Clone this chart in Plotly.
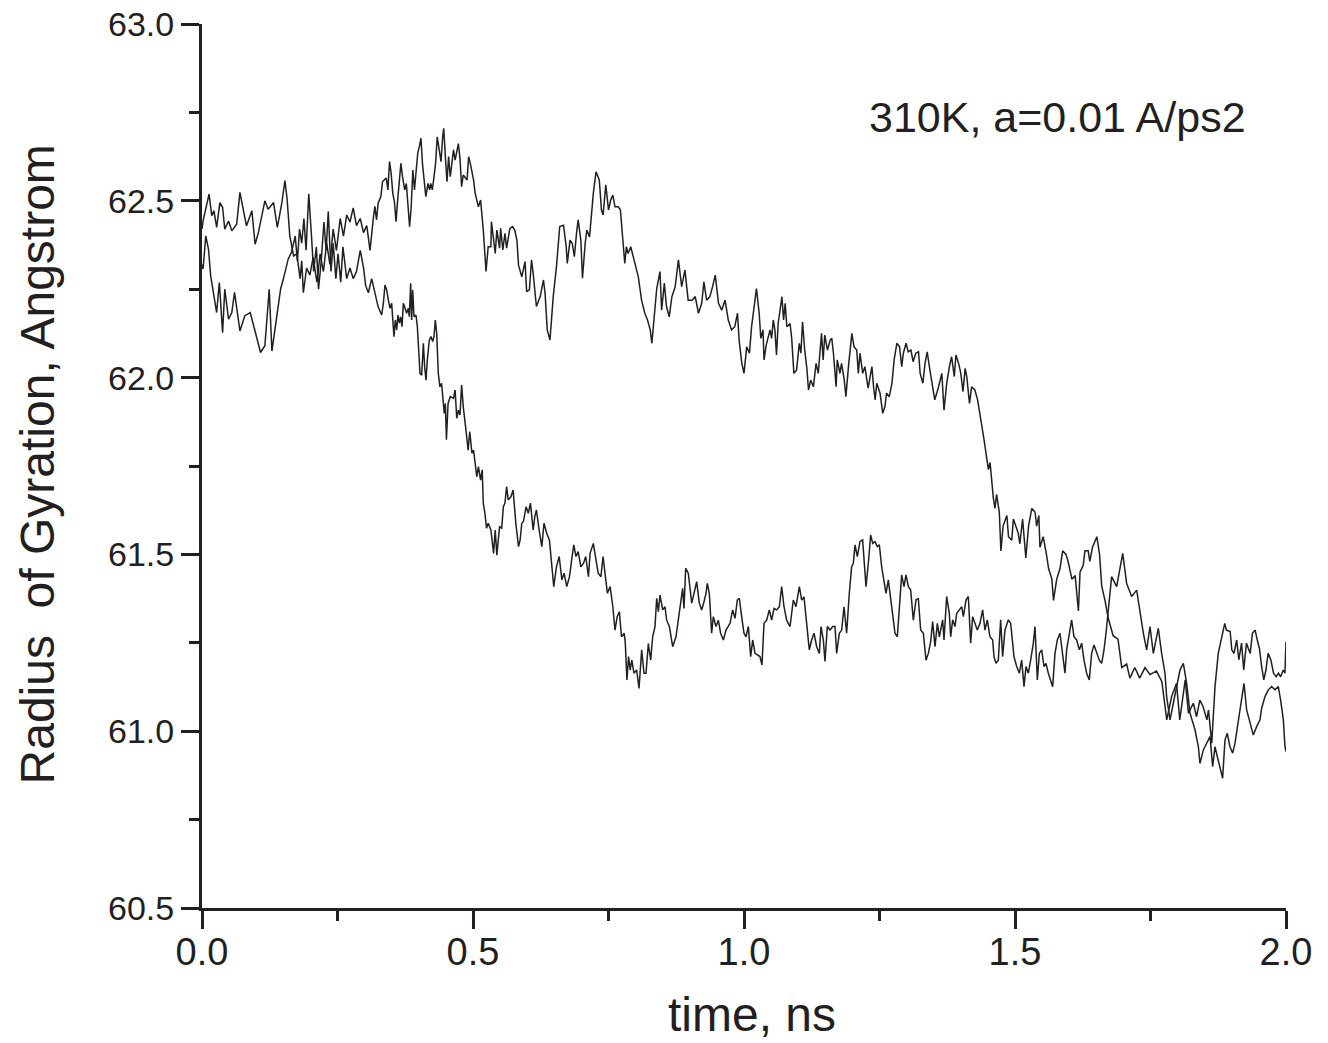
import plotly.graph_objects as go

# ---------------- data ----------------
time_a = [0.000, 0.002, 0.013, 0.018, 0.022, 0.027, 0.033, 0.038, 0.042, 0.049, 0.055, 0.064, 0.070, 0.076, 0.082,
          0.092, 0.098, 0.104, 0.110, 0.116, 0.122, 0.132, 0.139, 0.147, 0.153, 0.157, 0.162, 0.169,
          0.175, 0.178, 0.181, 0.184, 0.187, 0.193, 0.199, 0.205, 0.212, 0.218, 0.224, 0.230, 0.236, 0.242, 0.248,
          0.255, 0.261, 0.267, 0.273, 0.279, 0.285, 0.292, 0.298, 0.304, 0.310, 0.316,
          0.319, 0.322, 0.325, 0.330, 0.333, 0.336, 0.340, 0.343, 0.346, 0.349, 0.352, 0.355, 0.358, 0.361, 0.364,
          0.367, 0.370, 0.374, 0.377, 0.380, 0.383, 0.386, 0.389, 0.392, 0.395, 0.398, 0.401, 0.404, 0.407, 0.410,
          0.413, 0.417, 0.420, 0.422, 0.425, 0.428, 0.431, 0.434, 0.437, 0.441, 0.444, 0.446, 0.449, 0.452, 0.455,
          0.458, 0.461, 0.464, 0.467, 0.470, 0.473, 0.476, 0.479, 0.482, 0.489, 0.492, 0.495, 0.501, 0.504, 0.510,
          0.514, 0.519, 0.524, 0.528, 0.533, 0.534, 0.538, 0.541, 0.544, 0.549, 0.551, 0.555, 0.559, 0.562, 0.568,
          0.573, 0.577, 0.581, 0.584, 0.590, 0.596, 0.599, 0.604, 0.608, 0.611, 0.617, 0.624, 0.630, 0.633, 0.637,
          0.642, 0.648, 0.654, 0.660, 0.667, 0.672, 0.674, 0.679, 0.683, 0.687, 0.691, 0.694, 0.699, 0.702, 0.707,
          0.710, 0.715, 0.719, 0.722, 0.727, 0.733, 0.737, 0.740, 0.745, 0.750, 0.754, 0.758, 0.762, 0.768, 0.772,
          0.776, 0.780, 0.783, 0.786, 0.791, 0.796, 0.801, 0.805, 0.811, 0.817, 0.822, 0.827, 0.830, 0.834, 0.839,
          0.845, 0.848, 0.853, 0.857, 0.862, 0.867, 0.873, 0.879, 0.885, 0.891, 0.897, 0.904, 0.910, 0.916, 0.922,
          0.926, 0.931, 0.937, 0.942, 0.947, 0.953, 0.959, 0.965, 0.971, 0.977, 0.983, 0.988, 0.991, 0.996, 1.000,
          1.005, 1.010, 1.014, 1.020, 1.023, 1.028,
          1.031, 1.035, 1.037, 1.041, 1.045, 1.048, 1.051, 1.054, 1.057, 1.060, 1.063, 1.070, 1.073, 1.076, 1.079,
          1.085, 1.088, 1.092, 1.097, 1.102, 1.105, 1.108, 1.112, 1.116, 1.119, 1.123, 1.128, 1.133, 1.137, 1.140,
          1.143, 1.146, 1.149, 1.154, 1.159, 1.162, 1.165, 1.170, 1.172, 1.177, 1.180, 1.185, 1.188, 1.193, 1.199,
          1.203, 1.208, 1.211, 1.214, 1.219, 1.223, 1.229, 1.236, 1.239, 1.242, 1.245, 1.251, 1.256, 1.260, 1.263,
          1.268, 1.273, 1.277, 1.282, 1.287, 1.291, 1.294, 1.299, 1.303, 1.308, 1.312, 1.317, 1.322, 1.325, 1.330,
          1.334, 1.338, 1.343, 1.348, 1.352, 1.359, 1.365, 1.369, 1.374, 1.379, 1.383, 1.388, 1.391, 1.396, 1.400,
          1.404, 1.408, 1.411, 1.416, 1.420, 1.426, 1.431, 1.434, 1.438, 1.443,
          1.448, 1.451, 1.454, 1.457, 1.460, 1.463, 1.466, 1.471, 1.474, 1.478, 1.485, 1.488, 1.494, 1.497, 1.506,
          1.509, 1.514, 1.520, 1.525, 1.531, 1.537, 1.540, 1.544, 1.546, 1.552, 1.558, 1.562, 1.568, 1.571, 1.577,
          1.583, 1.588, 1.594, 1.598, 1.605, 1.611, 1.617, 1.620, 1.626, 1.629, 1.635, 1.638, 1.643, 1.651, 1.656,
          1.660, 1.666, 1.672, 1.681, 1.690, 1.697, 1.706, 1.712, 1.721, 1.730, 1.740, 1.749, 1.761, 1.771,
          1.780, 1.789, 1.798, 1.804, 1.814, 1.820, 1.829, 1.835, 1.841, 1.847, 1.854, 1.857, 1.863, 1.866, 1.869,
          1.875, 1.881, 1.887, 1.890, 1.897, 1.900, 1.904, 1.909, 1.913, 1.918, 1.922, 1.927, 1.934, 1.938, 1.943,
          1.947, 1.951, 1.955, 1.959, 1.963, 1.967, 1.972, 1.977, 1.982, 1.986, 1.990, 1.995, 1.998, 2.000]
rg_a = [62.42, 62.443, 62.519, 62.458, 62.472, 62.425, 62.495, 62.481, 62.420, 62.443, 62.415, 62.434, 62.524, 62.476, 62.429,
        62.472, 62.377, 62.410, 62.458, 62.500, 62.476, 62.495, 62.425, 62.491, 62.557, 62.505, 62.401, 62.344,
        62.35, 62.31, 62.28, 62.33, 62.24, 62.31, 62.29, 62.34, 62.27, 62.35, 62.30, 62.38, 62.32, 62.42, 62.36,
        62.45, 62.40, 62.46, 62.44, 62.48, 62.43, 62.45, 62.41, 62.43, 62.36, 62.45,
        62.484, 62.446, 62.493, 62.512, 62.554, 62.559, 62.564, 62.531, 62.611, 62.578, 62.521, 62.498, 62.441, 62.502, 62.549,
        62.606, 62.568, 62.531, 62.549, 62.483, 62.427, 62.483, 62.587, 62.531, 62.582, 62.634, 62.653, 62.677, 62.601, 62.559,
        62.512, 62.549, 62.531, 62.549, 62.531, 62.568, 62.606, 62.681, 62.653, 62.611, 62.681, 62.705, 62.625, 62.554, 62.625,
        62.568, 62.606, 62.644, 62.615, 62.634, 62.662, 62.620, 62.540, 62.573, 62.559, 62.625, 62.606, 62.559, 62.521, 62.483,
        62.502, 62.417, 62.300, 62.370, 62.370, 62.441, 62.398, 62.351, 62.417, 62.366, 62.422, 62.361, 62.408, 62.366, 62.422,
        62.427, 62.417, 62.389, 62.318, 62.285, 62.328, 62.243, 62.248, 62.333, 62.295, 62.201, 62.229, 62.276, 62.238, 62.135,
        62.106, 62.229, 62.314, 62.427, 62.431, 62.370, 62.323, 62.389, 62.380, 62.342, 62.408, 62.446, 62.389, 62.281, 62.380,
        62.417, 62.398, 62.483, 62.521, 62.582, 62.559, 62.474, 62.460, 62.545, 62.474, 62.502, 62.516, 62.483, 62.483, 62.474,
        62.389, 62.323, 62.370, 62.351, 62.370, 62.342, 62.314, 62.285, 62.219, 62.182, 62.163, 62.135, 62.097, 62.163, 62.252,
        62.300, 62.191, 62.267, 62.201, 62.172, 62.229, 62.257, 62.333, 62.257, 62.304, 62.219, 62.219, 62.229, 62.182, 62.210,
        62.271, 62.219, 62.229, 62.257, 62.290, 62.210, 62.191, 62.219, 62.163, 62.135, 62.144, 62.182, 62.106, 62.040, 62.012,
        62.087, 62.069, 62.144, 62.219, 62.252, 62.182,
        62.111, 62.135, 62.050, 62.092, 62.116, 62.135, 62.111, 62.163, 62.135, 62.064, 62.153, 62.229, 62.163, 62.210, 62.144,
        62.153, 62.111, 62.012, 62.021, 62.097, 62.069, 62.158, 62.078, 62.026, 61.965, 61.993, 61.974, 62.040, 62.012, 62.083,
        62.125, 62.050, 62.120, 62.078, 62.106, 62.111, 62.069, 61.974, 62.050, 62.012, 62.040, 61.993, 61.946, 62.036, 62.125,
        62.087, 62.078, 62.012, 62.069, 62.012, 62.031, 61.970, 62.031, 61.974, 61.937, 61.984, 61.956, 61.899, 61.918, 61.956,
        61.946, 61.984, 62.050, 62.097, 62.087, 62.031, 62.069, 62.097, 62.073, 62.078, 62.045, 62.069, 62.073, 62.012, 61.984,
        62.040, 62.073, 62.021, 61.974, 61.937, 61.974, 62.012, 61.908, 61.984, 62.031, 62.059, 62.003, 62.064, 62.040, 62.012,
        61.960, 62.026, 62.003, 61.927, 61.974, 61.965, 61.937, 61.908, 61.880, 61.823,
        61.77, 61.74, 61.76, 61.70, 61.66, 61.63, 61.67, 61.62, 61.51, 61.58, 61.61, 61.55, 61.54, 61.60, 61.56,
        61.53, 61.60, 61.49, 61.58, 61.63, 61.62, 61.58, 61.61, 61.52, 61.55, 61.50, 61.46, 61.43, 61.37, 61.43,
        61.46, 61.51, 61.50, 61.48, 61.43, 61.44, 61.34, 61.45, 61.47, 61.51, 61.51, 61.48, 61.52, 61.55, 61.50,
        61.41, 61.37, 61.32, 61.27, 61.26, 61.18, 61.19, 61.15, 61.18, 61.15, 61.18, 61.16, 61.17, 61.14,
        61.032, 61.098, 61.135, 61.032, 61.145, 61.051, 61.079, 61.041, 61.088, 61.070, 61.032, 61.060, 60.966, 61.032, 61.126,
        61.220, 61.258, 61.305, 61.286, 61.282, 61.230, 61.220, 61.258, 61.202, 61.249, 61.173, 61.249, 61.220, 61.277, 61.286,
        61.258, 61.234, 61.183, 61.145, 61.173, 61.220, 61.202, 61.164, 61.154, 61.164, 61.154, 61.173, 61.164, 61.253]

time_b = [0.000, 0.002, 0.007, 0.012, 0.016, 0.021, 0.027, 0.032, 0.038, 0.042, 0.049, 0.055, 0.060, 0.070, 0.079,
          0.089, 0.098, 0.108, 0.116, 0.124, 0.129, 0.139, 0.145, 0.153, 0.159, 0.165,
          0.172, 0.176, 0.180, 0.184, 0.188, 0.192, 0.197, 0.202, 0.206, 0.211, 0.215, 0.220, 0.225, 0.229, 0.233,
          0.238, 0.242, 0.247, 0.251, 0.256, 0.260, 0.267, 0.273, 0.279, 0.285, 0.292, 0.298, 0.302, 0.307, 0.313,
          0.319, 0.325,
          0.3315, 0.3346, 0.3376, 0.3407, 0.3438, 0.3469, 0.3499, 0.3518, 0.3542, 0.3567, 0.3592, 0.3616, 0.3641,
          0.3665, 0.3690, 0.3715, 0.3745, 0.3776, 0.3807, 0.3825, 0.3850, 0.3868, 0.3887, 0.3911, 0.3948, 0.3973,
          0.3998, 0.4022, 0.4053, 0.4084, 0.4108, 0.4133, 0.4157, 0.4194, 0.4225, 0.4256, 0.4280, 0.4305, 0.4330,
          0.436, 0.439, 0.442, 0.447, 0.449, 0.451, 0.454, 0.458, 0.464, 0.467, 0.470, 0.473, 0.476, 0.479, 0.482,
          0.487, 0.491, 0.494, 0.498, 0.501, 0.504, 0.507, 0.510, 0.514, 0.517, 0.519, 0.522, 0.525, 0.528, 0.533,
          0.538, 0.541, 0.544, 0.549, 0.553, 0.556, 0.559, 0.562, 0.565, 0.570, 0.574, 0.579, 0.584, 0.587, 0.590,
          0.593, 0.598, 0.602, 0.606, 0.611, 0.614, 0.617, 0.622, 0.627, 0.631, 0.636, 0.641, 0.645, 0.649, 0.654,
          0.659, 0.664, 0.668, 0.673, 0.678, 0.682, 0.686, 0.690, 0.694, 0.699, 0.704, 0.708, 0.713, 0.716, 0.722,
          0.727, 0.731, 0.736, 0.740, 0.745, 0.748, 0.753, 0.758, 0.762, 0.766, 0.770, 0.774, 0.779, 0.781, 0.784,
          0.787, 0.790, 0.793, 0.797, 0.802,
          0.8063, 0.8112, 0.8155, 0.8192, 0.8235, 0.8278, 0.8315, 0.8358, 0.8389, 0.8420, 0.8450, 0.8500, 0.8542,
          0.8573, 0.8623, 0.8684, 0.8745, 0.8788, 0.8831, 0.8868, 0.8893, 0.8924, 0.8973, 0.9004, 0.9035, 0.9078,
          0.9127, 0.9176, 0.9219, 0.9262, 0.9299, 0.9323, 0.9360, 0.9403, 0.9434, 0.9483, 0.9526, 0.9569, 0.9618,
          0.9668, 0.9711, 0.9742, 0.9791, 0.9834, 0.9877, 0.9914, 0.9957, 1.0000, 1.0037, 1.0080, 1.0123, 1.0160,
          1.0203, 1.0246, 1.0295, 1.0332, 1.0369, 1.0418, 1.0467, 1.0510, 1.0554, 1.0603, 1.0652, 1.0695, 1.0738,
          1.0787, 1.0849, 1.0910, 1.0959, 1.1021, 1.1064, 1.1107, 1.1156, 1.1205, 1.1248, 1.1292, 1.1341, 1.1390,
          1.1421, 1.1464, 1.1494, 1.1537, 1.1587, 1.1636, 1.1679, 1.1710, 1.1759, 1.1802, 1.1845, 1.1894, 1.1943,
          1.1986, 1.2017, 1.2048, 1.2091, 1.2140, 1.2189, 1.2214, 1.2251, 1.2294, 1.2337, 1.2374, 1.2417, 1.2460,
          1.2497, 1.2540, 1.2583, 1.2620, 1.2663, 1.2706, 1.2743, 1.2786, 1.2829, 1.2866, 1.2909, 1.2952, 1.2989,
          1.3032, 1.3075, 1.3124, 1.3173, 1.3216, 1.3260, 1.3309, 1.3358, 1.3401, 1.3444, 1.3481, 1.3524, 1.3567,
          1.3604,
          1.3665, 1.3690, 1.3739, 1.3788, 1.3813, 1.3850, 1.3893, 1.3924, 1.3973, 1.4016, 1.4047, 1.4096, 1.4139,
          1.4182, 1.4219, 1.4262, 1.4305, 1.4354, 1.4403, 1.4446, 1.4489, 1.4538, 1.4588, 1.4612, 1.4649, 1.4692,
          1.4735, 1.4772, 1.4815, 1.4877, 1.4920, 1.4957, 1.4981, 1.5031, 1.5080, 1.5123, 1.5166, 1.5203, 1.5246,
          1.5289, 1.5338, 1.5369, 1.5412, 1.5449, 1.5492, 1.5535, 1.5572, 1.5615, 1.5658, 1.5695, 1.5738, 1.5781,
          1.5830, 1.5879, 1.5922, 1.5953, 1.6002, 1.6045, 1.6088, 1.6138, 1.6187, 1.6230, 1.6273, 1.6322, 1.6371,
          1.6414, 1.6457, 1.6506, 1.6556, 1.6599, 1.6642, 1.6679, 1.6722, 1.6783, 1.6876, 1.6987, 1.7060, 1.7152,
          1.7245, 1.7306, 1.7368, 1.7429, 1.7491, 1.7552, 1.7644, 1.7706, 1.7767, 1.7798, 1.7860, 1.7921, 1.7983,
          1.8044, 1.8106, 1.8167, 1.8229, 1.8321, 1.8383, 1.8413, 1.8475, 1.8536, 1.8598, 1.8647, 1.8690, 1.8733,
          1.8782, 1.8831, 1.8874, 1.8917, 1.8966, 1.9016, 1.9059, 1.9120, 1.9182, 1.9225, 1.9274, 1.9336, 1.9397,
          1.9459, 1.9520, 1.9551, 1.9612, 1.9674, 1.9735, 1.9797, 1.9858, 1.9901, 1.9951, 1.9981, 2.0000]
rg_b = [62.32, 62.307, 62.401, 62.363, 62.288, 62.241, 62.184, 62.269, 62.127, 62.250, 62.165, 62.184, 62.241, 62.132, 62.175,
        62.184, 62.127, 62.071, 62.090, 62.250, 62.075, 62.193, 62.250, 62.297, 62.335, 62.354,
        62.40, 62.33, 62.42, 62.38, 62.45, 62.36, 62.52, 62.40, 62.30, 62.37, 62.25, 62.33, 62.44, 62.36, 62.47,
        62.30, 62.38, 62.28, 62.35, 62.27, 62.37, 62.28, 62.31, 62.28, 62.30, 62.36, 62.31, 62.26, 62.24, 62.28,
        62.24, 62.20,
        62.177, 62.210, 62.262, 62.248, 62.220, 62.196, 62.210, 62.163, 62.116, 62.163, 62.135, 62.177, 62.154,
        62.172, 62.144, 62.210, 62.196, 62.182, 62.196, 62.172, 62.267, 62.163, 62.248, 62.172, 62.177, 62.144,
        62.078, 62.012, 62.007, 62.097, 62.031, 61.993, 62.050, 62.106, 62.116, 62.102, 62.116, 62.163, 62.125,
        62.012, 61.974, 61.984, 61.899, 61.927, 61.824, 61.927, 61.946, 61.941, 61.965, 61.885, 61.908, 61.894, 61.979, 61.918,
        61.852, 61.795, 61.847, 61.786, 61.795, 61.748, 61.720, 61.748, 61.710, 61.739, 61.644, 61.616, 61.574, 61.588, 61.569,
        61.503, 61.569, 61.498, 61.578, 61.574, 61.635, 61.645, 61.692, 61.654, 61.663, 61.682, 61.588, 61.522, 61.541, 61.588,
        61.593, 61.635, 61.616, 61.645, 61.569, 61.607, 61.626, 61.569, 61.522, 61.588, 61.560, 61.541, 61.465, 61.409, 61.465,
        61.494, 61.428, 61.447, 61.409, 61.437, 61.484, 61.527, 61.494, 61.508, 61.465, 61.475, 61.494, 61.437, 61.503, 61.531,
        61.484, 61.447, 61.437, 61.494, 61.428, 61.390, 61.409, 61.352, 61.286, 61.324, 61.338, 61.267, 61.277, 61.249, 61.145,
        61.211, 61.173, 61.201, 61.164, 61.173,
        61.121, 61.230, 61.164, 61.164, 61.248, 61.201, 61.267, 61.296, 61.376, 61.338, 61.385, 61.343, 61.352,
        61.314, 61.296, 61.239, 61.267, 61.314, 61.371, 61.404, 61.347, 61.461, 61.446, 61.409, 61.362, 61.390,
        61.423, 61.362, 61.343, 61.366, 61.390, 61.418, 61.390, 61.277, 61.324, 61.296, 61.314, 61.277, 61.258,
        61.286, 61.296, 61.305, 61.343, 61.319, 61.371, 61.376, 61.324, 61.277, 61.267, 61.296, 61.211, 61.258,
        61.220, 61.216, 61.211, 61.187, 61.305, 61.314, 61.343, 61.314, 61.347, 61.343, 61.352, 61.409, 61.352,
        61.314, 61.296, 61.371, 61.352, 61.409, 61.371, 61.380, 61.305, 61.230, 61.258, 61.277, 61.239, 61.220,
        61.296, 61.258, 61.197, 61.296, 61.286, 61.296, 61.296, 61.220, 61.277, 61.286, 61.352, 61.277, 61.390,
        61.465, 61.475, 61.527, 61.494, 61.536, 61.541, 61.484, 61.409, 61.475, 61.555, 61.531, 61.536, 61.522,
        61.527, 61.465, 61.428, 61.390, 61.428, 61.371, 61.324, 61.277, 61.267, 61.352, 61.442, 61.409, 61.442,
        61.409, 61.399, 61.314, 61.371, 61.376, 61.286, 61.277, 61.201, 61.220, 61.253, 61.310, 61.239, 61.305,
        61.267,
        61.315, 61.258, 61.381, 61.333, 61.267, 61.315, 61.296, 61.333, 61.343, 61.352, 61.324, 61.371, 61.381,
        61.249, 61.324, 61.305, 61.286, 61.305, 61.343, 61.286, 61.315, 61.267, 61.258, 61.211, 61.192, 61.201,
        61.315, 61.211, 61.286, 61.315, 61.305, 61.249, 61.211, 61.183, 61.164, 61.201, 61.126, 61.183, 61.164,
        61.201, 61.249, 61.296, 61.145, 61.220, 61.230, 61.183, 61.192, 61.164, 61.145, 61.126, 61.220, 61.258,
        61.277, 61.211, 61.164, 61.230, 61.277, 61.315, 61.267, 61.258, 61.230, 61.249, 61.201, 61.164, 61.145,
        61.220, 61.244, 61.220, 61.201, 61.192, 61.230, 61.277, 61.343, 61.437, 61.409, 61.503, 61.418, 61.381,
        61.399, 61.333, 61.277, 61.230, 61.296, 61.220, 61.291, 61.220, 61.164, 61.098, 61.032, 61.079, 61.126,
        61.173, 61.192, 61.135, 61.051, 61.004, 60.956, 60.909, 60.947, 60.966, 60.985, 60.900, 60.956, 60.928,
        60.900, 60.867, 60.975, 60.994, 60.956, 60.938, 60.966, 61.032, 61.088, 61.135, 61.060, 61.022, 60.989,
        61.013, 61.032, 61.065, 61.098, 61.117, 61.126, 61.117, 61.126, 61.088, 61.032, 60.956, 60.942]

x_tick_vals = [0.0, 0.5, 1.0, 1.5, 2.0]
x_tick_text = ["0.0", "0.5", "1.0", "1.5", "2.0"]
x_minor_vals = [0.25, 0.75, 1.25, 1.75]
y_tick_vals = [60.5, 61.0, 61.5, 62.0, 62.5, 63.0]
y_tick_text = ["60.5", "61.0", "61.5", "62.0", "62.5", "63.0"]
y_minor_vals = [60.75, 61.25, 61.75, 62.25, 62.75]

x_title = "time, ns"
y_title = "Radius  of Gyration, Angstrom"
note_text = "310K, a=0.01 A/ps2"

# ---------------- figure ----------------
INK = "#231f20"
SANS = "Liberation Sans, Arial, Helvetica, sans-serif"

fig = go.Figure()
for t, r in ((time_a, rg_a), (time_b, rg_b)):
    fig.add_trace(go.Scatter(x=t, y=r, mode="lines",
                             line=dict(color=INK, width=1.5),
                             showlegend=False, hoverinfo="skip"))

fig.update_xaxes(range=[0, 2.0], tickvals=x_tick_vals, ticktext=x_tick_text,
                 ticks="outside", ticklen=18, tickwidth=2.5, tickcolor=INK,
                 showline=True, linewidth=3, linecolor=INK,
                 showgrid=False, zeroline=False, ticklabelstandoff=-10,
                 ticklabeloverflow="allow", automargin=False,
                 tickfont=dict(family=SANS, size=38, color=INK),
                 minor=dict(tickvals=x_minor_vals, ticks="outside", ticklen=10,
                            tickwidth=2.5, tickcolor=INK, showgrid=False))
fig.update_yaxes(range=[60.5, 63.0], tickvals=y_tick_vals, ticktext=y_tick_text,
                 ticks="outside", ticklen=18, tickwidth=2.5, tickcolor=INK,
                 showline=True, linewidth=3, linecolor=INK,
                 showgrid=False, zeroline=False,
                 ticklabeloverflow="allow", automargin=False,
                 tickfont=dict(family=SANS, size=34, color=INK),
                 minor=dict(tickvals=y_minor_vals, ticks="outside", ticklen=10,
                            tickwidth=2.5, tickcolor=INK, showgrid=False))

fig.add_annotation(text=note_text, xref="paper", yref="paper", x=0.6135, y=0.895,
                   xanchor="left", yanchor="middle", showarrow=False,
                   font=dict(family=SANS, size=43, color=INK))
fig.add_annotation(text=x_title, xref="paper", yref="paper", x=0.507, y=-0.121,
                   xanchor="center", yanchor="middle", showarrow=False,
                   font=dict(family=SANS, size=48, color=INK))
fig.add_annotation(text=y_title, xref="paper", yref="paper", x=-0.152, y=0.502,
                   xanchor="center", yanchor="middle", showarrow=False, textangle=-90,
                   font=dict(family=SANS, size=48, color=INK))

# the page body has an 8 px margin, so the figure is 8 px smaller each way
fig.update_layout(width=1320, height=1035,
                  margin=dict(l=194, r=42, t=16, b=135, autoexpand=False),
                  paper_bgcolor="white", plot_bgcolor="white")

fig.write_html("out.html")
